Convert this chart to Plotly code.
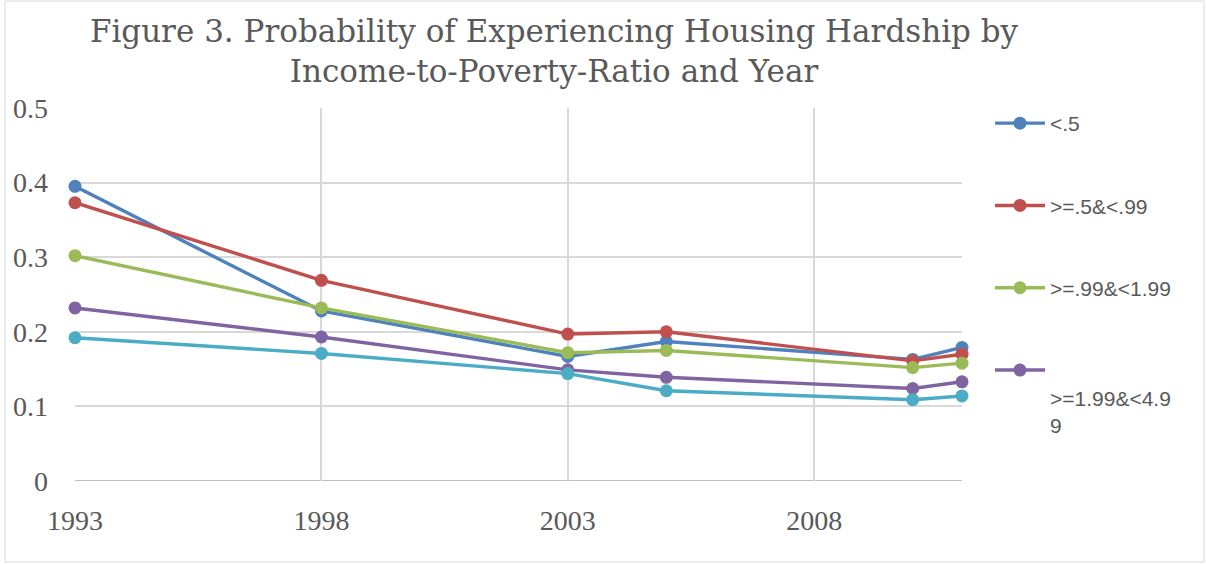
import plotly.graph_objects as go

years = [1993, 1998, 2003, 2005, 2010, 2011]
series_names = ["<.5", ">=.5&<.99", ">=.99&<1.99", " <br>>=1.99&<4.9<br>9", ">=4.99"]
lt_05 = [0.395, 0.228, 0.167, 0.187, 0.163, 0.179]
p05_099 = [0.373, 0.269, 0.197, 0.200, 0.161, 0.170]
p099_199 = [0.302, 0.232, 0.172, 0.175, 0.152, 0.158]
p199_499 = [0.232, 0.193, 0.149, 0.139, 0.124, 0.133]
ge_499 = [0.192, 0.171, 0.144, 0.121, 0.109, 0.114]
colors = ["#4f81bd", "#c0504d", "#9bbb59", "#8064a2", "#4bacc6"]
show_in_legend = [True, True, True, True, False]
x_ticks = [1993, 1998, 2003, 2008]
y_ticks = [0, 0.1, 0.2, 0.3, 0.4, 0.5]
title_text = "Figure 3. Probability of Experiencing Housing Hardship by<br>Income-to-Poverty-Ratio and Year"

W, H = 1206, 564
L, R, T, B = 75, 244, 108, 83

fig = go.Figure()
for i, (name, vals) in enumerate(zip(series_names, [lt_05, p05_099, p099_199, p199_499, ge_499])):
    fig.add_trace(go.Scatter(
        x=years, y=vals, name=name, mode="lines+markers",
        line=dict(color=colors[i], width=3.4),
        marker=dict(color=colors[i], size=13),
        showlegend=show_in_legend[i], legendgroup=f"g{i}",
        cliponaxis=False,
    ))

pw = W - L - R
ph = H - T - B
def px_x(p):
    return (p - L) / pw
def px_y(p):
    return (H - B - p) / ph

fig.update_layout(
    width=W, height=H,
    margin=dict(l=L, r=R, t=T, b=B),
    paper_bgcolor="white", plot_bgcolor="white",
    title=dict(text=title_text, x=554 / W, xref="container", xanchor="center",
               y=1 - 42 / H, yref="container", yanchor="middle",
               font=dict(family="DejaVu Serif", size=31, color="#595959")),
    xaxis=dict(range=[1993, 2011], tickvals=x_ticks, showgrid=True,
               gridcolor="#d9d9d9", gridwidth=1.5, zeroline=False,
               showline=False, ticks="", ticklabelstandoff=20,
               tickfont=dict(family="Liberation Serif", size=28, color="#595959")),
    yaxis=dict(range=[0, 0.5], tickvals=y_ticks, ticktext=["0", "0.1", "0.2", "0.3", "0.4", "0.5"],
               showgrid=True, gridcolor="#d9d9d9", gridwidth=1.5, zeroline=False,
               showline=False, ticks="", ticklabelstandoff=26,
               tickfont=dict(family="Liberation Serif", size=28, color="#595959")),
    legend=dict(x=px_x(990), y=px_y(103), xanchor="left", yanchor="top",
                font=dict(family="Liberation Sans", size=21, color="#595959"),
                tracegroupgap=52, valign="top", itemwidth=50, maxheight=520,
                bgcolor="rgba(0,0,0,0)"),
    shapes=[
        dict(type="line", xref="paper", yref="y", x0=0, x1=1, y0=0, y1=0,
             line=dict(color="#bfbfbf", width=2), layer="below"),
        dict(type="rect", xref="paper", yref="paper",
             x0=px_x(5), x1=px_x(1204), y0=px_y(562), y1=px_y(1),
             line=dict(color="#d9d9d9", width=1), layer="below"),
    ],
)

fig.write_html("out.html")
